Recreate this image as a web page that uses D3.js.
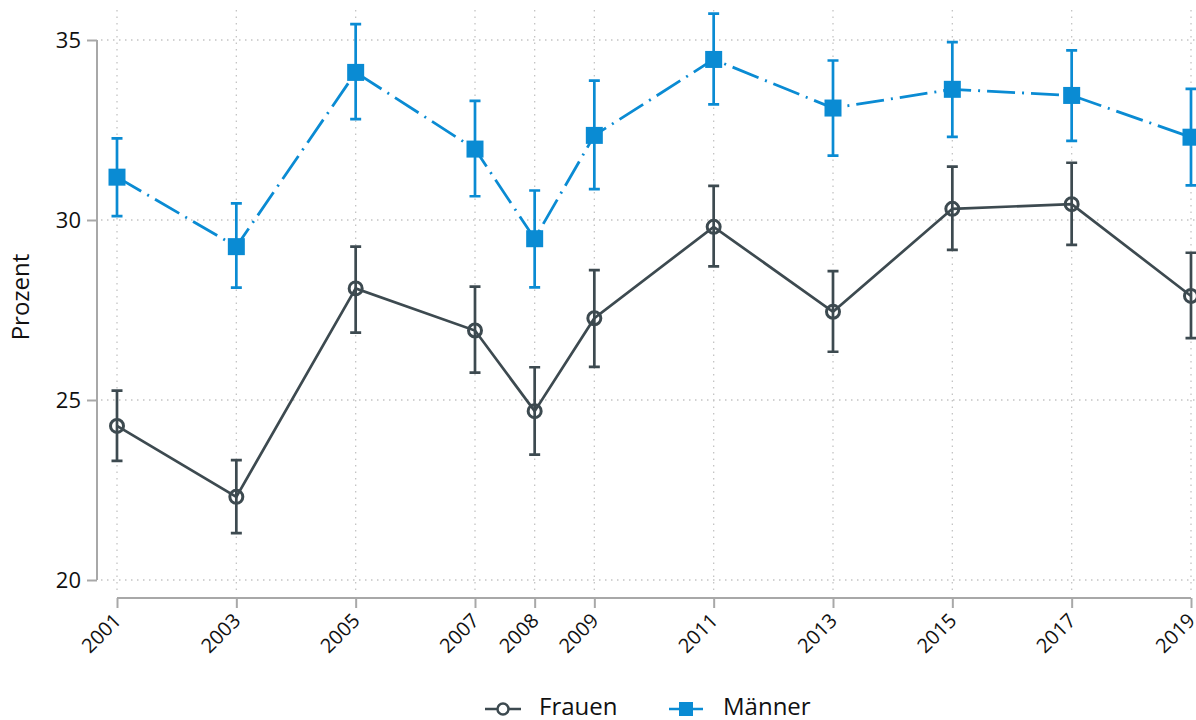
<!DOCTYPE html>
<html>
<head>
<meta charset="utf-8">
<script src="https://cdn.jsdelivr.net/npm/d3@7"></script>
<style>
  html, body { margin: 0; padding: 0; background: #fff; }
  svg { display: block; font-family: "Open Sans", "Noto Sans", sans-serif; }
</style>
</head>
<body>
<svg id="chart" width="1196" height="720"></svg>
<script>
// ---- data ----
const years = [2001, 2003, 2005, 2007, 2008, 2009, 2011, 2013, 2015, 2017, 2019];
const frauen      = [24.28, 22.31, 28.10, 26.93, 24.69, 27.27, 29.81, 27.45, 30.31, 30.44, 27.89];
const frauenLow   = [23.31, 21.30, 26.87, 25.76, 23.48, 25.92, 28.71, 26.34, 29.17, 29.31, 26.72];
const frauenHigh  = [25.26, 23.33, 29.26, 28.15, 25.91, 28.61, 30.95, 28.58, 31.48, 31.59, 29.09];
const maenner     = [31.19, 29.26, 34.10, 31.97, 29.48, 32.35, 34.46, 33.11, 33.63, 33.46, 32.30];
const maennerLow  = [30.11, 28.12, 32.80, 30.66, 28.13, 30.86, 33.21, 31.79, 32.31, 32.20, 30.96];
const maennerHigh = [32.27, 30.46, 35.44, 33.31, 30.82, 33.87, 35.73, 34.43, 34.94, 34.71, 33.64];
const yTicks = [20, 25, 30, 35];
const yLabel = "Prozent";
const seriesNames = ["Frauen", "Männer"];

const colFrauen = "#3d4a50";
const colMaenner = "#0a8bd3";
const gridCol = "#c4c4c4";
const axisCol = "#a8a8a8";

const svg = d3.select("#chart");
const x = d3.scaleLinear().domain([2001, 2019]).range([117, 1191]);
const y = d3.scaleLinear().domain([20, 35]).range([580, 40]);

// grid
const grid = svg.append("g");
grid.selectAll("line.h").data(yTicks).enter().append("line")
  .attr("x1", 101).attr("x2", 1196)
  .attr("y1", d => y(d)).attr("y2", d => y(d))
  .attr("stroke", gridCol).attr("stroke-width", 1.3).attr("stroke-dasharray", "1.5,4.5");
grid.selectAll("line.v").data(years).enter().append("line")
  .attr("x1", d => x(d)).attr("x2", d => x(d))
  .attr("y1", 10).attr("y2", 593)
  .attr("stroke", gridCol).attr("stroke-width", 1.3).attr("stroke-dasharray", "1.5,5");

// y axis
const yAxis = svg.append("g").attr("transform", "translate(97,0)")
  .call(d3.axisLeft(y).tickValues(yTicks).tickSize(10).tickPadding(6).tickFormat(d3.format("d")));
yAxis.attr("font-size", null).attr("font-family", null);
yAxis.select(".domain").attr("d", `M0,${y(35)}V${y(20)}`);
yAxis.selectAll("path, line").attr("stroke", axisCol).attr("stroke-width", 2);
yAxis.selectAll("text").style("font-size", "22px").attr("fill", "#111");

// x axis
const xAxis = svg.append("g").attr("transform", "translate(0,598)")
  .call(d3.axisBottom(x).tickValues(years).tickSize(10).tickFormat(d3.format("d")));
xAxis.attr("font-size", null).attr("font-family", null);
xAxis.select(".domain").attr("d", `M${x(2001)},0H${x(2019)}`);
xAxis.selectAll("path, line").attr("stroke", axisCol).attr("stroke-width", 2);
xAxis.selectAll("text")
  .style("font-size", "20px").attr("fill", "#111")
  .attr("text-anchor", "end")
  .attr("y", 0).attr("dy", "0.7em")
  .attr("transform", "translate(-5,14) rotate(-45)");

// y label
svg.append("text").attr("transform", "translate(29,297) rotate(-90)")
  .attr("text-anchor", "middle").style("font-size", "24px").attr("fill", "#111").text(yLabel);

const line = d3.line().x(d => x(d[0])).y(d => y(d[1]));

const fData = years.map((yr, i) => [yr, frauen[i], frauenLow[i], frauenHigh[i]]);
const mData = years.map((yr, i) => [yr, maenner[i], maennerLow[i], maennerHigh[i]]);

function errorBars(data, col, cap) {
  const g = svg.append("g").attr("stroke", col).attr("stroke-width", 2.7).attr("fill", "none");
  g.selectAll("path").data(data).enter().append("path")
    .attr("d", d => `M${x(d[0])},${y(d[2])}V${y(d[3])}M${x(d[0]) - cap},${y(d[2])}h${2 * cap}M${x(d[0]) - cap},${y(d[3])}h${2 * cap}`);
}

svg.append("path").datum(mData).attr("d", line)
  .attr("fill", "none").attr("stroke", colMaenner).attr("stroke-width", 2.8)
  .attr("stroke-dasharray", "28,7,2,7");
svg.append("path").datum(fData).attr("d", line)
  .attr("fill", "none").attr("stroke", colFrauen).attr("stroke-width", 2.7);

errorBars(mData, colMaenner, 5.5);
errorBars(fData, colFrauen, 5.5);

const sq = 17;
svg.append("g").selectAll("rect").data(mData).enter().append("rect")
  .attr("x", d => x(d[0]) - sq / 2).attr("y", d => y(d[1]) - sq / 2)
  .attr("width", sq).attr("height", sq).attr("fill", colMaenner);

svg.append("g").selectAll("circle").data(fData).enter().append("circle")
  .attr("cx", d => x(d[0])).attr("cy", d => y(d[1])).attr("r", 6.5)
  .attr("fill", "none").attr("stroke", colFrauen).attr("stroke-width", 3);

// legend
const leg = svg.append("g");
const ly = 709;
leg.append("line").attr("x1", 485).attr("x2", 521).attr("y1", ly).attr("y2", ly)
  .attr("stroke", colFrauen).attr("stroke-width", 2.5);
leg.append("circle").attr("cx", 503).attr("cy", ly).attr("r", 5.5)
  .attr("fill", "#fff").attr("stroke", colFrauen).attr("stroke-width", 2.5);
leg.append("text").attr("x", 539).attr("y", ly + 6).style("font-size", "24px").attr("fill", "#111").text(seriesNames[0]);

leg.append("line").attr("x1", 669).attr("x2", 703).attr("y1", ly).attr("y2", ly)
  .attr("stroke", colMaenner).attr("stroke-width", 2.5);
leg.append("rect").attr("x", 686 - 7).attr("y", ly - 7).attr("width", 14).attr("height", 14)
  .attr("fill", colMaenner);
leg.append("text").attr("x", 723).attr("y", ly + 6).style("font-size", "24px").attr("fill", "#111").text(seriesNames[1]);
</script>
</body>
</html>
